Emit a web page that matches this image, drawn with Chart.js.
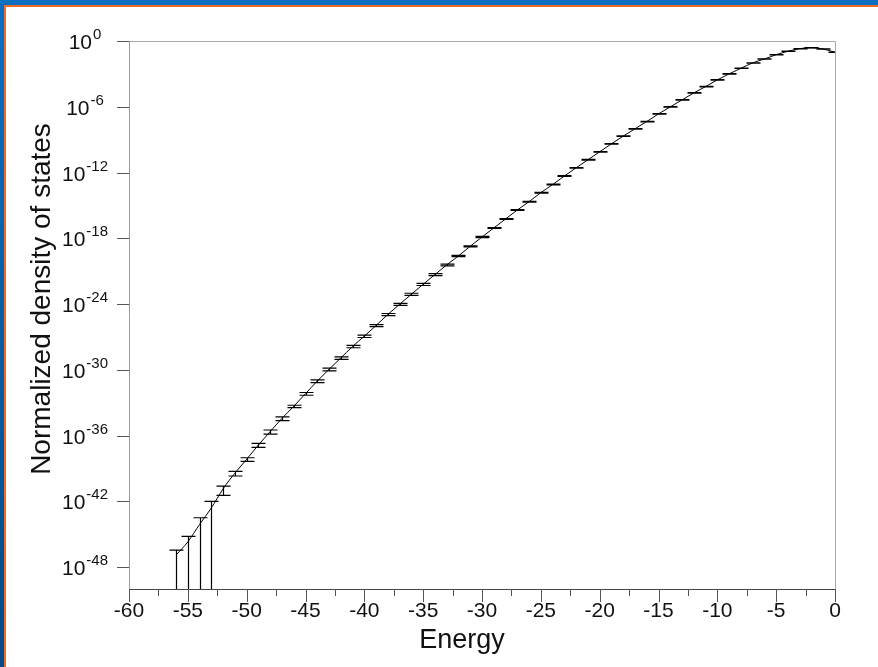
<!DOCTYPE html>
<html>
<head>
<meta charset="utf-8">
<script src="https://cdn.jsdelivr.net/npm/chart.js@4.4.0/dist/chart.umd.min.js"></script>
<style>
  html, body { margin: 0; padding: 0; }
  #frame { position: absolute; left: 0; top: 0; width: 878px; height: 667px;
           background: linear-gradient(to bottom, #0b6fc2, #064a86); }
  #sheet { position: absolute; left: 4px; top: 5px; right: 0; bottom: 0; background: #fff;
           border-top: 2px solid #ee6a2c; border-left: 2px solid #ee6a2c; }
  #plot { position: absolute; left: 0; top: 0; }
</style>
</head>
<body>
<div id="frame"></div>
<div id="sheet"></div>
<canvas id="plot" width="878" height="667"></canvas>
<script>
// energy bins (one per integer)
const energy = [-56, -55, -54, -53, -52, -51, -50, -49, -48, -47, -46, -45, -44, -43, -42, -41,
  -40, -39, -38, -37, -36, -35, -34, -33, -32, -31, -30, -29, -28, -27, -26, -25, -24, -23,
  -22, -21, -20, -19, -18, -17, -16, -15, -14, -13, -12, -11, -10, -9, -8, -7, -6, -5, -4,
  -3, -2, -1, 0];

// normalized density of states
const dos = [1.26e-47, 2.0e-46, 7.9e-45, 2.5e-43, 1.4e-41, 3.7e-40, 6.9e-39, 1.38e-37,
  2.29e-36, 3.72e-35, 4.68e-34, 6.61e-33, 9.33e-32, 1.10e-30, 1.20e-29, 1.35e-28,
  1.17e-27, 1.10e-26, 1.12e-25, 9.55e-25, 7.94e-24, 6.31e-23, 4.90e-22, 3.72e-21,
  2.45e-20, 1.86e-19, 1.32e-18, 8.71e-18, 5.75e-17, 3.80e-16, 2.19e-15, 1.45e-14,
  7.94e-14, 4.79e-13, 2.69e-12, 1.45e-11, 7.76e-11, 4.17e-10, 2.09e-9, 9.77e-9,
  4.47e-8, 2.24e-7, 9.77e-7, 4.27e-6, 1.82e-5, 6.92e-5, 2.82e-4, 1.0e-3, 3.24e-3,
  1.0e-2, 2.29e-2, 5.62e-2, 0.115, 0.200, 0.245, 0.186, 0.0933];

// relative error of each bin (>= 1 means the lower bar runs off the axis)
const relErr = [1.8, 2.2, 3.0, 3.0, 0.75, 0.45, 0.37, 0.4, 0.4, 0.37, 0.24, 0.28, 0.28,
  0.27, 0.25, 0.24, 0.24, 0.22, 0.22, 0.22, 0.22, 0.22, 0.2, 0.2, 0.12, 0.12, 0.12, 0.1,
  0.1, 0.1, 0.08, 0.08, 0.08, 0.08, 0.07, 0.07, 0.07, 0.07, 0.06, 0.06, 0.06, 0.06, 0.05,
  0.05, 0.05, 0.05, 0.05, 0.04, 0.04, 0.04, 0.04, 0.04, 0.03, 0.03, 0.03, 0.03, 0.03];

const xTicks = [-60, -55, -50, -45, -40, -35, -30, -25, -20, -15, -10, -5, 0];
const xMinorTicks = [-57.5, -52.5, -47.5, -42.5, -37.5, -32.5, -27.5, -22.5, -17.5, -12.5, -7.5, -2.5];
const yTickExp = [0, -6, -12, -18, -24, -30, -36, -42, -48];
const xTitle = 'Energy';
const yTitle = 'Normalized density of states';

const FONT = '"Liberation Sans", Arial, Helvetica, sans-serif';
Chart.defaults.font.family = FONT;

// error bars, ticks, superscript labels, titles and the grey frame
const extras = {
  id: 'extras',
  afterDatasetsDraw(chart) {
    const { ctx, chartArea: a, scales: { x, y } } = chart;
    ctx.save();
    ctx.beginPath();
    ctx.rect(a.left, a.top, a.right - a.left, a.bottom - a.top);
    ctx.clip();
    ctx.strokeStyle = '#000';
    ctx.lineWidth = 1.2;
    energy.forEach((e, i) => {
      const px = Math.round(x.getPixelForValue(e)) + 0.5;
      const hi = dos[i] * (1 + relErr[i]);
      const lo = dos[i] * (1 - relErr[i]);
      const pyHi = y.getPixelForValue(hi);
      const pyLo = lo > 0 ? y.getPixelForValue(lo) : a.bottom;
      ctx.beginPath();
      ctx.moveTo(px, pyHi); ctx.lineTo(px, pyLo);
      ctx.moveTo(px - 7, pyHi); ctx.lineTo(px + 7, pyHi);
      if (lo > 0) { ctx.moveTo(px - 7, pyLo); ctx.lineTo(px + 7, pyLo); }
      ctx.stroke();
    });
    ctx.restore();
  },
  afterDraw(chart) {
    const { ctx, chartArea: a, scales: { x, y } } = chart;
    ctx.save();
    // top and right frame lines
    ctx.strokeStyle = '#a8a8a8';
    ctx.lineWidth = 1;
    ctx.beginPath();
    ctx.moveTo(a.left, a.top + 0.5); ctx.lineTo(a.right + 0.5, a.top + 0.5);
    ctx.lineTo(a.right + 0.5, a.bottom + 13);
    ctx.stroke();

    // x ticks (major + minor, pointing down)
    ctx.strokeStyle = '#555';
    ctx.beginPath();
    xTicks.forEach(v => {
      const px = Math.round(x.getPixelForValue(v)) + 0.5;
      ctx.moveTo(px, a.bottom); ctx.lineTo(px, a.bottom + 13);
    });
    xMinorTicks.forEach(v => {
      const px = Math.round(x.getPixelForValue(v)) + 0.5;
      ctx.moveTo(px, a.bottom); ctx.lineTo(px, a.bottom + 7);
    });
    ctx.stroke();

    // y ticks and 10^n labels, centred in the gutter
    ctx.fillStyle = '#111';
    yTickExp.forEach(p => {
      const py = Math.round(y.getPixelForValue(Math.pow(10, p))) + 0.5;
      ctx.beginPath();
      ctx.moveTo(a.left - 12, py); ctx.lineTo(a.left, py);
      ctx.stroke();
      const exp = String(p);
      ctx.font = '15px ' + FONT;
      const we = ctx.measureText(exp).width;
      ctx.font = '21px ' + FONT;
      const wb = ctx.measureText('10').width;
      const start = 85 - (wb + we + 1) / 2;
      ctx.textAlign = 'left';
      ctx.textBaseline = 'middle';
      ctx.fillText('10', start, py + 2);
      ctx.font = '15px ' + FONT;
      ctx.textBaseline = 'alphabetic';
      ctx.fillText(exp, start + wb + 1, py - 3);
    });

    // axis titles
    ctx.fillStyle = '#111';
    ctx.textAlign = 'center';
    ctx.textBaseline = 'middle';
    ctx.font = '27px ' + FONT;
    ctx.fillText(xTitle, 462, 641);
    ctx.translate(42, 299);
    ctx.rotate(-Math.PI / 2);
    ctx.font = '28px ' + FONT;
    ctx.fillText(yTitle, 0, 0);
    ctx.restore();
  }
};

new Chart(document.getElementById('plot'), {
  type: 'line',
  data: {
    datasets: [{
      data: energy.map((e, i) => ({ x: e, y: dos[i] })),
      borderColor: '#000',
      borderWidth: 1,
      pointRadius: 0,
      cubicInterpolationMode: 'monotone',
      fill: false
    }]
  },
  options: {
    responsive: false,
    animation: false,
    layout: { padding: { left: 0, top: 41, right: 43, bottom: 0 } },
    plugins: { legend: { display: false }, tooltip: { enabled: false } },
    scales: {
      x: {
        type: 'linear',
        min: -60, max: 0,
        afterBuildTicks: s => { s.ticks = xTicks.map(v => ({ value: v })); },
        afterFit: s => { s.height = 78; },
        grid: { display: false, drawTicks: false },
        border: { display: true, color: '#444', width: 1 },
        ticks: { color: '#111', font: { size: 21 }, padding: 10, maxRotation: 0, autoSkip: false }
      },
      y: {
        type: 'logarithmic',
        min: 1e-50, max: 1,
        afterBuildTicks: s => { s.ticks = yTickExp.map(p => ({ value: Math.pow(10, p) })); },
        afterFit: s => { s.width = 129; },
        grid: { display: false, drawTicks: false },
        border: { display: true, color: '#9a9a9a', width: 1 },
        ticks: { display: false }
      }
    }
  },
  plugins: [extras]
});
</script>
</body>
</html>
